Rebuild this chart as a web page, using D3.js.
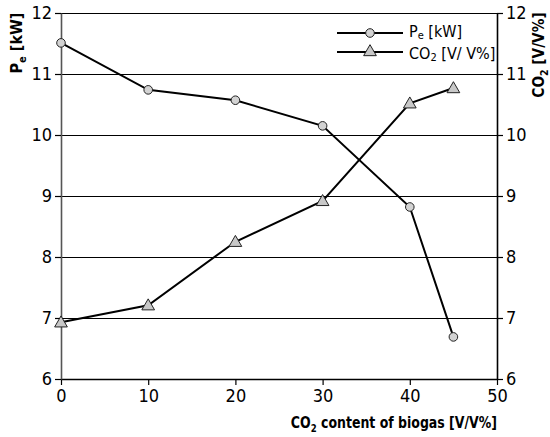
<!DOCTYPE html>
<html>
<head>
<meta charset="utf-8">
<script src="https://cdn.jsdelivr.net/npm/d3@7"></script>
<style>
  body { margin: 0; background: #fff; }
  text { font-family: "DejaVu Sans Condensed", "DejaVu Sans", sans-serif; font-stretch: condensed; }
</style>
</head>
<body>
<div id="chart"></div>
<script>
// data
var co2Content = [0, 10, 20, 30, 40, 45];
var pePower = [11.51, 10.74, 10.57, 10.15, 8.82, 6.69];
var co2Level = [6.93, 7.21, 8.25, 8.92, 10.52, 10.77];
var xTicks = [0, 10, 20, 30, 40, 50];
var yTicks = [6, 7, 8, 9, 10, 11, 12];

var width = 550, height = 437;
var margin = {top: 13, right: 53, bottom: 58, left: 61};
var w = width - margin.left - margin.right;
var h = height - margin.top - margin.bottom;

var svg = d3.select("#chart").append("svg")
  .attr("width", width)
  .attr("height", height);
var g = svg.append("g")
  .attr("transform", "translate(" + margin.left + "," + margin.top + ")");

var x = d3.scaleLinear().domain([0, 50]).range([0, w]);
var yL = d3.scaleLinear().domain([6, 12]).range([h, 0]);
var yR = d3.scaleLinear().domain([6, 12]).range([h, 0]);
var fmt = d3.format("d");

// gridlines
g.selectAll("line.grid").data(yTicks.filter(function(d) { return d > 6; }))
  .enter().append("line")
  .attr("class", "grid")
  .attr("x1", 0).attr("x2", w)
  .attr("y1", function(d) { return Math.round(yL(d)) + 0.5; })
  .attr("y2", function(d) { return Math.round(yL(d)) + 0.5; })
  .attr("stroke", "#000").attr("stroke-width", 1.2);

function styleAxis(sel, col) {
  sel.selectAll("path").attr("stroke", col).attr("stroke-width", 1.6);
  sel.selectAll("line").attr("stroke", "#000").attr("stroke-width", 1.2);
  sel.selectAll("text").attr("font-size", "18px").attr("fill", "#000");
}

var xAxis = g.append("g")
  .attr("transform", "translate(0," + h + ")")
  .call(d3.axisBottom(x).tickValues(xTicks).tickFormat(fmt).tickSize(6).tickSizeOuter(0).tickPadding(4));
styleAxis(xAxis, "#000");

var leftAxis = g.append("g")
  .call(d3.axisLeft(yL).tickValues(yTicks).tickFormat(fmt).tickSize(6).tickSizeOuter(0).tickPadding(3));
styleAxis(leftAxis, "#555");

var rightAxis = g.append("g")
  .attr("transform", "translate(" + w + ",0)")
  .call(d3.axisRight(yR).tickValues(yTicks).tickFormat(fmt).tickSize(6).tickSizeOuter(0).tickPadding(3));
styleAxis(rightAxis, "#000");

var pePts = co2Content.map(function(c, i) { return [c, pePower[i]]; });
var co2Pts = co2Content.map(function(c, i) { return [c, co2Level[i]]; });

var peLine = d3.line().x(function(d) { return x(d[0]); }).y(function(d) { return yL(d[1]); });
var co2Line = d3.line().x(function(d) { return x(d[0]); }).y(function(d) { return yR(d[1]); });

g.append("path").attr("d", peLine(pePts))
  .attr("fill", "none").attr("stroke", "#000").attr("stroke-width", 2);
g.append("path").attr("d", co2Line(co2Pts))
  .attr("fill", "none").attr("stroke", "#000").attr("stroke-width", 2);

var tri = d3.symbol().type(d3.symbolTriangle).size(70);

g.selectAll("circle.pe").data(pePts).enter().append("circle")
  .attr("class", "pe")
  .attr("cx", function(d) { return x(d[0]); })
  .attr("cy", function(d) { return yL(d[1]); })
  .attr("r", 4.3)
  .attr("fill", "#d3d3d3").attr("stroke", "#222").attr("stroke-width", 1);

g.selectAll("path.co2").data(co2Pts).enter().append("path")
  .attr("class", "co2")
  .attr("d", tri)
  .attr("transform", function(d) { return "translate(" + x(d[0]) + "," + (yR(d[1]) + 1) + ")"; })
  .attr("fill", "#c8c8c8").attr("stroke", "#222").attr("stroke-width", 1);

// legend
var legend = svg.append("g").attr("transform", "translate(337,33)");
legend.append("line").attr("x1", 0).attr("x2", 66).attr("y1", 0).attr("y2", 0)
  .attr("stroke", "#000").attr("stroke-width", 2);
legend.append("circle").attr("cx", 33).attr("cy", 0).attr("r", 4.3)
  .attr("fill", "#d3d3d3").attr("stroke", "#222");
var t1 = legend.append("text").attr("x", 72).attr("y", 4).attr("font-size", "16px");
t1.append("tspan").text("P");
t1.append("tspan").attr("dy", 2).attr("font-size", "11px").text("e");
t1.append("tspan").attr("dy", -2).text(" [kW]");

legend.append("line").attr("x1", 0).attr("x2", 66).attr("y1", 19).attr("y2", 19)
  .attr("stroke", "#000").attr("stroke-width", 2);
legend.append("path").attr("d", tri)
  .attr("transform", "translate(33,19)")
  .attr("fill", "#c8c8c8").attr("stroke", "#222");
var t2 = legend.append("text").attr("x", 72).attr("y", 26).attr("font-size", "16px");
t2.append("tspan").text("CO");
t2.append("tspan").attr("dy", 2).attr("font-size", "11px").text("2");
t2.append("tspan").attr("dy", -2).text(" [V/ V%]");

// axis titles
var lt = svg.append("text")
  .attr("transform", "translate(22,43) rotate(-90)")
  .attr("text-anchor", "middle")
  .attr("font-size", "16px").attr("font-weight", "bold");
lt.append("tspan").text("P");
lt.append("tspan").attr("dy", 4).attr("font-size", "11px").text("e");
lt.append("tspan").attr("dy", -4).text(" [kW]");

var rt = svg.append("text")
  .attr("transform", "translate(544,55) rotate(-90) scale(0.95,1)")
  .attr("text-anchor", "middle")
  .attr("font-size", "16px").attr("font-weight", "bold");
rt.append("tspan").text("CO");
rt.append("tspan").attr("dy", 4).attr("font-size", "11px").text("2");
rt.append("tspan").attr("dy", -4).text(" [V/V%]");

var bt = svg.append("text")
  .attr("transform", "translate(497,428) scale(0.87,1)")
  .attr("text-anchor", "end")
  .attr("font-size", "16px").attr("font-weight", "bold");
bt.append("tspan").text("CO");
bt.append("tspan").attr("dy", 4).attr("font-size", "11px").text("2");
bt.append("tspan").attr("dy", -4).text(" content of biogas [V/V%]");
</script>
</body>
</html>
